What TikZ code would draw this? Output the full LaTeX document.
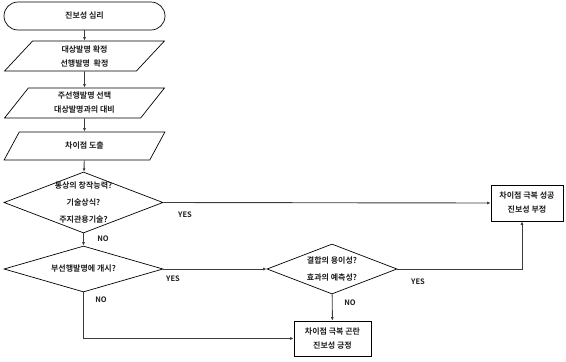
\documentclass[tikz,border=0pt]{standalone}
\usepackage{fontspec}
\IfFontExistsTF{Noto Sans CJK KR Bold}
  {\setmainfont{Noto Sans CJK KR}[BoldFont={Noto Sans CJK KR Bold}]}
  {\setmainfont{Noto Sans CJK KR}[BoldFont={Noto Sans CJK KR}, BoldFeatures={FakeBold=2}]}
\usepackage{tikz}
\usetikzlibrary{arrows.meta, shapes.geometric}
\definecolor{my_line}{HTML}{3C3C3C}
\definecolor{my_text}{HTML}{1E1E1E}

\begin{document}
\begin{tikzpicture}[
    x=1pt, y=-1pt,
    every node/.style={font=\bfseries\fontsize{8}{14}\selectfont, text=my_text, align=center},
    terminal/.style={draw=black, line width=0.7pt, rectangle, rounded corners=14pt, minimum width=161pt, minimum height=28pt},
    datashape/.style={draw=black, line width=0.7pt, trapezium, trapezium left angle=59, trapezium right angle=121, trapezium stretches=true, minimum width=161pt, inner sep=0pt},
    decision/.style={draw=black, line width=0.7pt, diamond, inner sep=0pt},
    resultbox/.style={draw=black, line width=0.7pt, rectangle, inner sep=0pt},
    flow/.style={draw=my_line, line width=0.9pt, -{Latex[length=3.5pt, width=3pt]}},
    answer/.style={font=\bfseries\fontsize{7.5}{9}\selectfont}
]
\useasboundingbox (0,0) rectangle (566,362);

% --- Linke Spalte ---
\node[terminal] (start) at (84.5, 16) {진보성 심리};
\node[datashape, minimum height=30pt] (fix) at (84.5, 56) {대상발명 확정\\선행발명 \ 확정};
\node[datashape, minimum height=30pt] (compare) at (84.5, 103) {주선행발명 선택\\대상발명과의 대비};
\node[datashape, minimum height=28pt] (diff) at (84.5, 146) {차이점 도출};

% --- Entscheidungen (Rauten leer, Text darüber) ---
\node[decision, minimum width=159pt, minimum height=61pt] (common) at (83.5, 202.5) {};
\node[decision, minimum width=159pt, minimum height=46pt] (sub) at (83.5, 269) {};
\node[decision, minimum width=130pt, minimum height=50pt] (combine) at (332, 269) {};
\node[font=\bfseries\fontsize{8}{17}\selectfont] (common_txt) at (common) {통상의 창작능력?\\기술상식?\\주지관용기술?};
\node (sub_txt) at (sub) {부선행발명에 개시?};
\node[font=\bfseries\fontsize{8}{17}\selectfont] (combine_txt) at (combine) {결합의 용이성?\\효과의 예측성?};

% --- Ergebnisse ---
\node[resultbox, minimum width=72pt, minimum height=36pt] (deny) at (527, 203) {차이점 극복 성공\\진보성 부정};
\node[resultbox, minimum width=77pt, minimum height=35pt] (affirm) at (332.5, 338.5) {차이점 극복 곤란\\진보성 긍정};

% --- Verbindungen ---
\draw[flow] (start) -- (fix);
\draw[flow] (fix) -- (compare);
\draw[flow] (compare) -- (diff);
\draw[flow] (diff) -- (common);
\draw[flow] (common) -- (sub);
\draw[flow] (common.east) -- (deny.west);
\draw[flow] (sub.east) -- (combine.west);
\draw[flow] (combine.east) -| ([xshift=-5pt]deny.south);
\draw[flow] (combine) -- (affirm);
\draw[flow] (sub.south) |- (affirm.west);

% --- Beschriftungen ---
\node[answer] (yes1) at (185, 215) {YES};
\node[answer] (no1) at (103, 239) {NO};
\node[answer] (yes2) at (173, 279) {YES};
\node[answer] (no2) at (101, 300) {NO};
\node[answer] (yes3) at (418, 282) {YES};
\node[answer] (no3) at (350, 303) {NO};

\end{tikzpicture}
\end{document}
